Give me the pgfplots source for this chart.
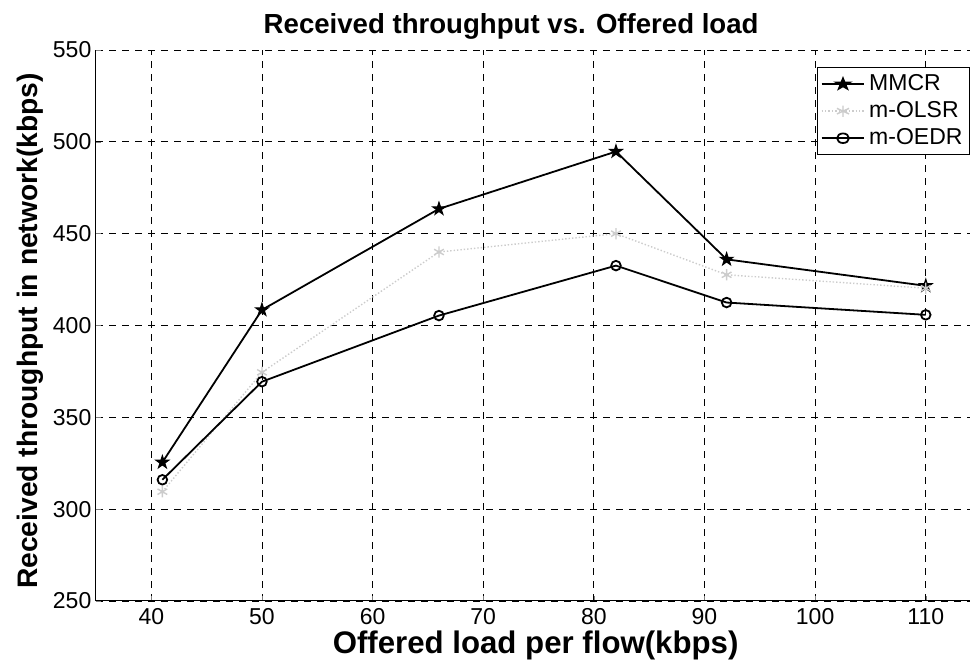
\documentclass[border=0pt]{standalone}
\usepackage{fontspec}
\setmainfont{Liberation Sans}
\usepackage{pgfplots}
\pgfplotsset{compat=1.18}
\pgfdeclareplotmark{pentagram}{%
  \pgfpathmoveto{\pgfpointpolar{90}{\pgfplotmarksize}}%
  \pgfpathlineto{\pgfpointpolar{126}{0.382\pgfplotmarksize}}%
  \pgfpathlineto{\pgfpointpolar{162}{\pgfplotmarksize}}%
  \pgfpathlineto{\pgfpointpolar{198}{0.382\pgfplotmarksize}}%
  \pgfpathlineto{\pgfpointpolar{234}{\pgfplotmarksize}}%
  \pgfpathlineto{\pgfpointpolar{270}{0.382\pgfplotmarksize}}%
  \pgfpathlineto{\pgfpointpolar{306}{\pgfplotmarksize}}%
  \pgfpathlineto{\pgfpointpolar{342}{0.382\pgfplotmarksize}}%
  \pgfpathlineto{\pgfpointpolar{18}{\pgfplotmarksize}}%
  \pgfpathlineto{\pgfpointpolar{54}{0.382\pgfplotmarksize}}%
  \pgfpathclose
  \pgfusepathqfillstroke
}
\begin{document}
\begin{tikzpicture}
\begin{axis}[
  scale only axis, width=437pt, height=275.5pt,
  xmin=35, xmax=114, ymin=250, ymax=550,
  xtick={40,50,...,110}, ytick={250,300,...,550},
  axis x line*=bottom, axis y line*=left,
  axis line style={line width=0.5pt},
  grid=major,
  major grid style={black, line width=0.4pt, dash pattern=on 3.5pt off 3pt},
  tick align=inside, major tick length=2.5pt,
  tick label style={font=\fontsize{11.5}{13}\selectfont},
  yticklabel style={xshift=1.2pt},
  /pgf/number format/assume math mode=true,
  title={Received throughput vs. Offered load},
  title style={font=\fontsize{13.8}{16}\selectfont\bfseries, at={(axis description cs:0.475,1.0214)}, anchor=center},
  xlabel={Offered load per flow(kbps)},
  xlabel style={font=\fontsize{15.6}{18}\selectfont\bfseries, at={(axis description cs:0.503,-0.081)}, anchor=center},
  ylabel={Received throughput in network(kbps)},
  ylabel style={font=\fontsize{14.1}{17}\selectfont\bfseries, at={(axis description cs:-0.0755,0.49)}, anchor=center},
  legend style={at={(axis description cs:1,0.969)}, anchor=north east, font=\fontsize{11.5}{13}\selectfont, draw=black, line width=0.5pt, inner sep=1.5pt},
  legend cell align=left,
  legend image post style={xscale=1.25},
]
\addplot[black, line width=0.9pt, mark=pentagram, mark size=3.2pt, mark options={solid, fill=black, line width=0.6pt}]
  coordinates {(41,325.5) (50,408.5) (66,463.5) (82,494.7) (92,436) (110,421.6)};
\addlegendentry{MMCR}
\addplot[gray!40, line width=0.7pt, densely dotted, mark=asterisk, mark size=2.8pt, mark options={solid}]
  coordinates {(41,309.5) (50,374.5) (66,440) (82,450) (92,427.6) (110,420.3)};
\addlegendentry{m-OLSR}
\addplot[black, line width=0.9pt, mark=o, mark size=2.4pt, mark options={solid, line width=0.9pt}]
  coordinates {(41,316) (50,369.4) (66,405.4) (82,432.6) (92,412.5) (110,405.8)};
\addlegendentry{m-OEDR}
\end{axis}
\pgfresetboundingbox
\path ([shift={(-48pt,-29.5pt)}]current axis.south west) rectangle ([shift={(0.5pt,25pt)}]current axis.north east);
\end{tikzpicture}
\end{document}
